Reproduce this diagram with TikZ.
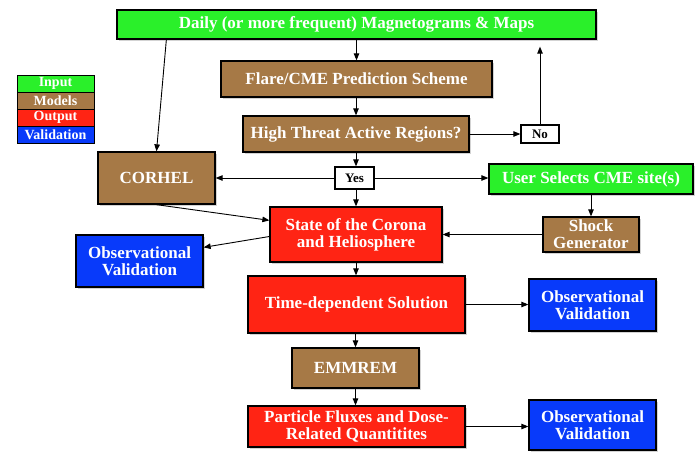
\documentclass[tikz,border=0pt]{standalone}
\usepackage{fontspec}
\setmainfont{Liberation Serif}
\usetikzlibrary{arrows.meta,shadows,calc}
\definecolor{inGreen}{RGB}{42,240,42}
\definecolor{modBrown}{RGB}{166,121,70}
\definecolor{outRed}{RGB}{255,36,20}
\definecolor{valBlue}{RGB}{8,58,250}
\tikzset{
  box/.style={draw=black, line width=1.3pt, inner sep=0pt, align=center,
    text=white, font=\bfseries\fontsize{17}{17}\selectfont,
    drop shadow={shadow xshift=1.5pt, shadow yshift=-1.5pt, opacity=0.35}},
  wbox/.style={draw=black, line width=1.3pt, fill=white, inner sep=0pt,
    text=black, font=\bfseries\fontsize{13}{14}\selectfont,
    drop shadow={shadow xshift=1.2pt, shadow yshift=-1.2pt, opacity=0.35}},
  legbox/.style={draw=black, line width=1pt, inner sep=0pt, text=white,
    minimum width=77pt, minimum height=17pt,
    font=\bfseries\fontsize{14}{14}\selectfont},
  arr/.style={-{Triangle[length=7pt,width=5.5pt]}, line width=0.9pt, draw=black},
}
\begin{document}
\begin{tikzpicture}[x=1pt,y=-1pt]
\useasboundingbox (0,0) rectangle (696,451);
% legend
\node[legbox, fill=inGreen] (lin) at (55.5,83.5) {Input};
\node[legbox, fill=modBrown] (lmod) at (55.5,100.5) {Models};
\node[legbox, fill=outRed] (lout) at (55.5,117.5) {Output};
\node[legbox, fill=valBlue] (lval) at (55.5,135) {Validation};
% main boxes
\node[box, fill=inGreen, minimum width=479pt, minimum height=29pt] (daily) at (356.5,24.5) {Daily (or more frequent) Magnetograms \& Maps};
\node[box, fill=modBrown, minimum width=271pt, minimum height=36pt] (flare) at (356.5,79) {Flare/CME Prediction Scheme};
\node[box, fill=modBrown, minimum width=226pt, minimum height=36pt] (threat) at (356,134) {High Threat Active Regions?};
\node[wbox, minimum width=38pt, minimum height=18pt] (no) at (540,134) {No};
\node[wbox, minimum width=39pt, minimum height=22pt] (yes) at (354.5,178) {Yes};
\node[box, fill=modBrown, minimum width=117pt, minimum height=52pt] (corhel) at (156.5,178) {CORHEL};
\node[box, fill=inGreen, minimum width=204pt, minimum height=30pt] (user) at (591,179) {User Selects CME site(s)};
\node[box, fill=outRed, minimum width=172pt, minimum height=55pt] (state) at (356,234.5) {State of the Corona\\and Heliosphere};
\node[box, fill=modBrown, minimum width=96pt, minimum height=35pt] (shock) at (591,234.5) {Shock\\Generator};
\node[box, fill=valBlue, minimum width=127pt, minimum height=52pt] (obs1) at (139.5,261) {Observational\\Validation};
\node[box, fill=outRed, minimum width=217pt, minimum height=57pt] (timedep) at (356.5,304.5) {Time-dependent Solution};
\node[box, fill=valBlue, minimum width=127pt, minimum height=52pt] (obs2) at (592.5,305) {Observational\\Validation};
\node[box, fill=modBrown, minimum width=127pt, minimum height=40pt] (emmrem) at (355.5,368) {EMMREM};
\node[box, fill=outRed, minimum width=217pt, minimum height=41pt] (particle) at (356.5,426.5) {Particle Fluxes and Dose-\\Related Quantitites};
\node[box, fill=valBlue, minimum width=127pt, minimum height=50pt] (obs3) at (592.5,425) {Observational\\Validation};
% connectors
\draw[arr] (daily.south -| flare.north) -- (flare.north);
\draw[arr] ($(daily.south west)+(50,0)$) -- (corhel.north);
\draw[arr] (flare.south -| threat.north) -- (threat.north);
\draw[arr] (threat.east) -- (no.west);
\draw[arr, shorten >=7pt] (no.north) -- (no.north |- daily.south);
\draw[arr] (threat.south) -- (threat.south |- yes.north);
\draw[arr] (yes.west) -- (corhel.east);
\draw[arr] (yes.east) -- (yes.east -| user.west);
\draw[arr] (yes.south -| state.north) -- (state.north);
\draw[arr] (corhel.south) -- ($(state.north west)+(0,14)$);
\draw[arr] ($(state.west)+(0,2)$) -- ($(obs1.north east)+(0,13)$);
\draw[arr] (shock.west) -- (shock.west -| state.east);
\draw[arr] (user.south) -- (shock.north);
\draw[arr] (state.south) -- (state.south |- timedep.north);
\draw[arr] (timedep.east) -- (timedep.east -| obs2.west);
\draw[arr] (timedep.south -| emmrem.north) -- (emmrem.north);
\draw[arr] (emmrem.south) -- (emmrem.south |- particle.north);
\draw[arr] (particle.east) -- (particle.east -| obs3.west);
\end{tikzpicture}
\end{document}
